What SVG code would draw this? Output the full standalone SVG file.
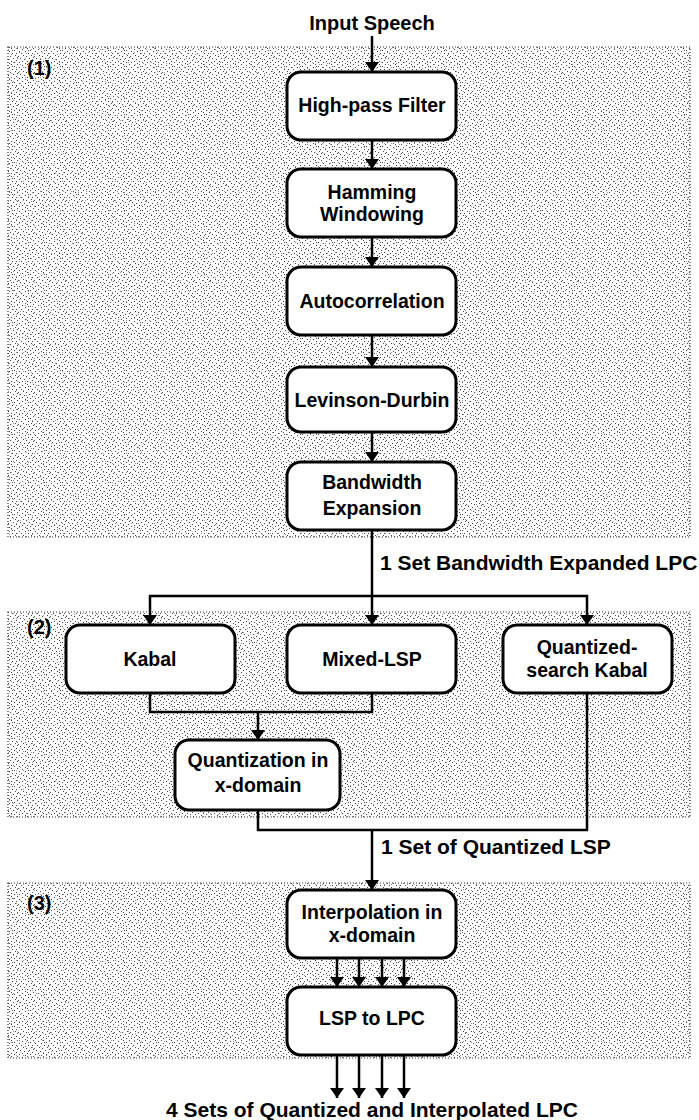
<svg xmlns="http://www.w3.org/2000/svg" width="699" height="1120" viewBox="0 0 699 1120">
  <style>
    .box { fill: #ffffff; stroke: #000000; stroke-width: 3; }
    .lbl { font-family: "Liberation Sans", Arial, sans-serif; font-weight: bold; font-size: 19.5px; fill: #000000; text-anchor: middle; }
    .cap { font-family: "Liberation Sans", Arial, sans-serif; font-weight: bold; font-size: 21px; fill: #000000; }
    .tag { font-family: "Liberation Sans", Arial, sans-serif; font-weight: bold; font-size: 20px; fill: #000000; }
    .wire { fill: none; stroke: #000000; stroke-width: 2.5; }
    .arr { marker-end: url(#head); }
    .panel-bg { fill: #ffffff; }
    .panel-dots { fill: url(#speckle); opacity: 0.85; }
    .panel-dots2 { fill: url(#speckle2); opacity: 0.5; }
    .panel-edge { fill: none; stroke: #333333; stroke-width: 1.2; stroke-dasharray: 1 2; }
  </style>
  <defs>
    <marker id="head" viewBox="0 0 10 14" refX="10" refY="7" markerUnits="userSpaceOnUse" markerWidth="10" markerHeight="14" orient="auto">
      <path d="M0,0 L10,7 L0,14 Z" fill="#000000"/>
    </marker>
    <!-- halftone speckle tiles for the stage panels -->
    <pattern id="speckle" width="16" height="16" patternUnits="userSpaceOnUse">
      <path fill="#262626" d="M1 0h1v1h-1z M6 1h1v1h-1z M11 0h1v1h-1z M14 2h1v1h-1z M3 3h1v1h-1z M9 3h1v1h-1z M0 5h1v1h-1z M5 5h1v1h-1z M12 5h1v1h-1z M7 7h1v1h-1z M2 8h1v1h-1z M15 7h1v1h-1z M10 8h1v1h-1z M4 10h1v1h-1z M13 10h1v1h-1z M8 11h1v1h-1z M0 12h1v1h-1z M6 13h1v1h-1z M11 13h1v1h-1z M3 14h1v1h-1z M14 14h1v1h-1z M9 15h1v1h-1z M1 9h1v1h-1z M12 2h1v1h-1z"/>
    </pattern>
    <pattern id="speckle2" width="23" height="19" patternUnits="userSpaceOnUse">
      <path fill="#333333" d="M2 1h1v1h-1z M9 2h1v1h-1z M17 1h1v1h-1z M5 6h1v1h-1z M13 5h1v1h-1z M20 7h1v1h-1z M0 10h1v1h-1z M8 11h1v1h-1z M16 10h1v1h-1z M3 15h1v1h-1z M11 16h1v1h-1z M19 14h1v1h-1z"/>
    </pattern>
  </defs>

  <!-- stage panels -->
  <g id="panel-1">
    <rect class="panel-bg" x="8" y="47" width="682" height="490"/>
    <rect class="panel-dots" x="8" y="47" width="682" height="490"/>
    <rect class="panel-dots2" x="8" y="47" width="682" height="490"/>
    <rect class="panel-edge" x="8" y="47" width="682" height="490"/>
    <text class="tag" x="27" y="75">(1)</text>
  </g>
  <g id="panel-2">
    <rect class="panel-bg" x="8" y="612" width="682" height="205"/>
    <rect class="panel-dots" x="8" y="612" width="682" height="205"/>
    <rect class="panel-dots2" x="8" y="612" width="682" height="205"/>
    <rect class="panel-edge" x="8" y="612" width="682" height="205"/>
    <text class="tag" x="27" y="634">(2)</text>
  </g>
  <g id="panel-3">
    <rect class="panel-bg" x="8" y="883" width="682" height="175"/>
    <rect class="panel-dots" x="8" y="883" width="682" height="175"/>
    <rect class="panel-dots2" x="8" y="883" width="682" height="175"/>
    <rect class="panel-edge" x="8" y="883" width="682" height="175"/>
    <text class="tag" x="27" y="910">(3)</text>
  </g>

  <!-- connectors -->
  <g id="connectors">
    <line class="wire arr" x1="372" y1="36" x2="372" y2="72"/>
    <line class="wire arr" x1="372" y1="140" x2="372" y2="169"/>
    <line class="wire arr" x1="372" y1="237" x2="372" y2="267"/>
    <line class="wire arr" x1="372" y1="335" x2="372" y2="367"/>
    <line class="wire arr" x1="372" y1="432" x2="372" y2="462"/>
    <line class="wire arr" x1="372" y1="530" x2="372" y2="625"/>
    <polyline class="wire arr" points="372,596 150,596 150,625"/>
    <polyline class="wire arr" points="372,596 587,596 587,625"/>
    <polyline class="wire" points="150,693 150,712 372,712 372,693"/>
    <line class="wire arr" x1="258" y1="712" x2="258" y2="740"/>
    <polyline class="wire" points="258,810 258,830 587,830 587,693"/>
    <line class="wire arr" x1="372" y1="830" x2="372" y2="890"/>
    <line class="wire arr" x1="337" y1="958" x2="337" y2="987"/>
    <line class="wire arr" x1="359" y1="958" x2="359" y2="987"/>
    <line class="wire arr" x1="382" y1="958" x2="382" y2="987"/>
    <line class="wire arr" x1="404" y1="958" x2="404" y2="987"/>
    <line class="wire arr" x1="337" y1="1055" x2="337" y2="1098"/>
    <line class="wire arr" x1="359" y1="1055" x2="359" y2="1098"/>
    <line class="wire arr" x1="382" y1="1055" x2="382" y2="1098"/>
    <line class="wire arr" x1="404" y1="1055" x2="404" y2="1098"/>
  </g>

  <!-- flow labels -->
  <text id="input-label" class="cap" x="372" y="30" text-anchor="middle" style="font-size:20px">Input Speech</text>
  <text id="lpc-label" class="cap" x="380" y="570">1 Set Bandwidth Expanded LPC</text>
  <text id="lsp-label" class="cap" x="381" y="854">1 Set of Quantized LSP</text>
  <text id="output-label" class="cap" x="372" y="1117" text-anchor="middle">4 Sets of Quantized and Interpolated LPC</text>

  <!-- stage 1 -->
  <g id="high-pass-filter">
    <rect class="box" x="287" y="72" width="169" height="68" rx="14"/>
    <text class="lbl" x="372" y="112">High-pass Filter</text>
  </g>
  <g id="hamming-windowing">
    <rect class="box" x="287" y="169" width="169" height="68" rx="14"/>
    <text class="lbl" x="372" y="199">Hamming</text>
    <text class="lbl" x="372" y="221">Windowing</text>
  </g>
  <g id="autocorrelation">
    <rect class="box" x="287" y="267" width="169" height="68" rx="14"/>
    <text class="lbl" x="372" y="308">Autocorrelation</text>
  </g>
  <g id="levinson-durbin">
    <rect class="box" x="287" y="367" width="169" height="65" rx="14"/>
    <text class="lbl" x="372" y="407">Levinson-Durbin</text>
  </g>
  <g id="bandwidth-expansion">
    <rect class="box" x="287" y="462" width="169" height="68" rx="14"/>
    <text class="lbl" x="372" y="489">Bandwidth</text>
    <text class="lbl" x="372" y="515">Expansion</text>
  </g>

  <!-- stage 2 -->
  <g id="kabal">
    <rect class="box" x="66" y="625" width="169" height="68" rx="14"/>
    <text class="lbl" x="150" y="666">Kabal</text>
  </g>
  <g id="mixed-lsp">
    <rect class="box" x="287" y="625" width="169" height="68" rx="14"/>
    <text class="lbl" x="372" y="666">Mixed-LSP</text>
  </g>
  <g id="quantized-search-kabal">
    <rect class="box" x="503" y="625" width="169" height="68" rx="14"/>
    <text class="lbl" x="587" y="654">Quantized-</text>
    <text class="lbl" x="587" y="677">search Kabal</text>
  </g>
  <g id="quantization-x-domain">
    <rect class="box" x="175" y="740" width="165" height="70" rx="14"/>
    <text class="lbl" x="258" y="767">Quantization in</text>
    <text class="lbl" x="258" y="792">x-domain</text>
  </g>

  <!-- stage 3 -->
  <g id="interpolation-x-domain">
    <rect class="box" x="287" y="890" width="169" height="68" rx="14"/>
    <text class="lbl" x="372" y="919">Interpolation in</text>
    <text class="lbl" x="372" y="942">x-domain</text>
  </g>
  <g id="lsp-to-lpc">
    <rect class="box" x="287" y="987" width="169" height="68" rx="14"/>
    <text class="lbl" x="372" y="1025">LSP to LPC</text>
  </g>
</svg>
